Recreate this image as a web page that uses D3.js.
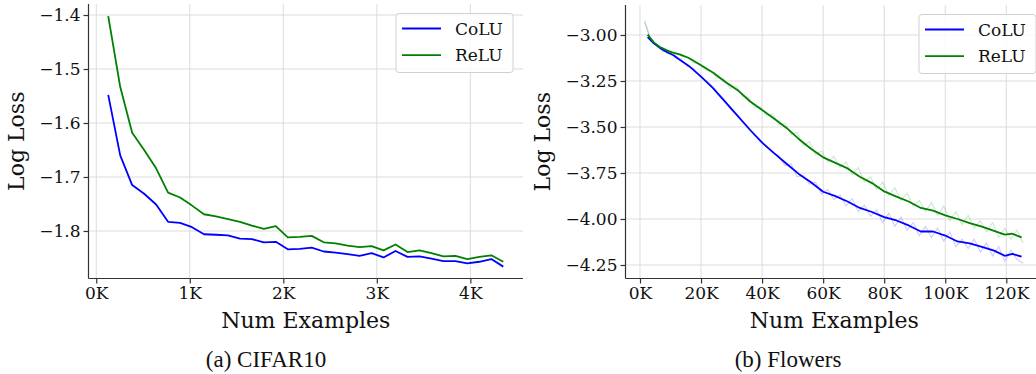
<!DOCTYPE html>
<html>
<head>
<meta charset="utf-8">
<script src="https://cdn.jsdelivr.net/npm/d3@7"></script>
<style>
body { margin: 0; background: #fff; }
</style>
</head>
<body>
<svg id="chart" width="1036" height="374"></svg>
<script>
const seriesNames = ['CoLU', 'ReLU'];
const seriesColors = ['#0000ff', '#008000'];

// (a) CIFAR10: one point per 128 examples
const cifarX = [128, 256, 384, 512, 640, 768, 896, 1024, 1152, 1280, 1408, 1536, 1664, 1792, 1920, 2048, 2176,
    2304, 2432, 2560, 2688, 2816, 2944, 3072, 3200, 3328, 3456, 3584, 3712, 3840, 3968, 4096, 4224, 4352];
const cifarColu = [-1.548, -1.660, -1.715, -1.731, -1.751, -1.783, -1.785, -1.793, -1.806, -1.807, -1.808, -1.814,
    -1.815, -1.821, -1.820, -1.834, -1.833, -1.831, -1.838, -1.840, -1.843, -1.846, -1.841, -1.849, -1.837, -1.848,
    -1.847, -1.851, -1.856, -1.856, -1.860, -1.857, -1.852, -1.866];
const cifarRelu = [-1.402, -1.533, -1.618, -1.650, -1.684, -1.729, -1.738, -1.753, -1.769, -1.773, -1.778, -1.783,
    -1.790, -1.796, -1.791, -1.812, -1.811, -1.809, -1.821, -1.823, -1.827, -1.830, -1.828, -1.836, -1.825, -1.839,
    -1.836, -1.841, -1.847, -1.846, -1.852, -1.848, -1.845, -1.857];

// (b) Flowers: smoothed curves
const flowersX = [2500, 4500, 6500, 9000, 11000, 13000, 16000, 20000, 24000, 28000, 32000, 36000, 40000, 44000,
    48000, 52000, 56000, 60000, 64000, 68000, 72000, 76000, 80000, 84000, 88000, 92000, 96000, 100000, 104000,
    108000, 112000, 116000, 119500, 122000, 125000];
const flowersColu = [-3.012, -3.045, -3.070, -3.095, -3.110, -3.135, -3.168, -3.226, -3.290, -3.365, -3.440, -3.515,
    -3.585, -3.643, -3.700, -3.755, -3.800, -3.852, -3.876, -3.905, -3.940, -3.962, -3.990, -4.008, -4.035, -4.068,
    -4.068, -4.090, -4.122, -4.132, -4.152, -4.172, -4.200, -4.190, -4.205];
const flowersRelu = [-2.998, -3.040, -3.065, -3.085, -3.097, -3.105, -3.125, -3.165, -3.205, -3.255, -3.300, -3.360,
    -3.408, -3.455, -3.505, -3.565, -3.618, -3.665, -3.695, -3.725, -3.770, -3.805, -3.850, -3.878, -3.905, -3.940,
    -3.955, -3.980, -4.000, -4.022, -4.042, -4.065, -4.085, -4.080, -4.100];

// (b) Flowers: raw (unsmoothed) values, drawn faint
const flowersRawX = [1500, 3500, 5500, 7500, 9500, 11500, 13500, 15500, 17500, 19500, 21500, 23500, 25500, 27500,
    29500, 31500, 33500, 35500, 37500, 39500, 41500, 43500, 45500, 47500, 49500, 51500, 53500, 55500, 57500, 59500,
    61500, 63500, 65500, 67500, 69500, 71500, 73500, 75500, 77500, 79500, 81500, 83500, 85500, 87500, 89500, 91500,
    93500, 95500, 97500, 99500, 101500, 103500, 105500, 107500, 109500, 111500, 113500, 115500, 117500, 119500,
    121500, 123500, 125500];
const flowersColuRaw = [-2.93, -3.03, -3.05, -3.09, -3.085, -3.125, -3.13, -3.17, -3.18, -3.225, -3.245, -3.275,
    -3.32, -3.35, -3.40, -3.43, -3.47, -3.50, -3.545, -3.57, -3.61, -3.64, -3.655, -3.71, -3.70, -3.77, -3.765,
    -3.81, -3.80, -3.865, -3.84, -3.895, -3.87, -3.93, -3.89, -3.96, -3.925, -3.985, -3.95, -4.02, -3.97, -4.04,
    -3.99, -4.06, -4.02, -4.09, -4.04, -4.10, -4.05, -4.12, -4.07, -4.15, -4.11, -4.16, -4.11, -4.18, -4.13, -4.20,
    -4.15, -4.23, -4.17, -4.22, -4.24];
const flowersReluRaw = [-2.92, -3.02, -3.055, -3.07, -3.10, -3.09, -3.115, -3.12, -3.15, -3.16, -3.19, -3.20,
    -3.235, -3.24, -3.29, -3.28, -3.33, -3.34, -3.395, -3.39, -3.44, -3.43, -3.49, -3.48, -3.54, -3.53, -3.60,
    -3.58, -3.65, -3.63, -3.69, -3.66, -3.72, -3.69, -3.76, -3.72, -3.80, -3.77, -3.84, -3.80, -3.87, -3.83, -3.90,
    -3.86, -3.93, -3.90, -3.96, -3.91, -3.98, -3.93, -4.01, -3.96, -4.03, -3.98, -4.05, -4.01, -4.07, -4.02, -4.10,
    -4.05, -4.11, -4.06, -4.13];

const cifarXTicks = [0, 1000, 2000, 3000, 4000];
const cifarYTicks = [-1.8, -1.7, -1.6, -1.5, -1.4];
const flowersXTicks = [0, 20000, 40000, 60000, 80000, 100000, 120000];
const flowersYTicks = [-4.25, -4.0, -3.75, -3.5, -3.25, -3.0];

const svg = d3.select('#chart');
const serif = "'DejaVu Serif', serif";
const kFormat = d => `${ d / 1000 }K`;

function drawPanel(p) {
    const x = d3.scaleLinear().domain(p.xDomain).range([p.left, p.right]);
    const y = d3.scaleLinear().domain(p.yDomain).range([p.bottom, p.top]);
    const g = svg.append('g');

    // grid
    g.append('g').selectAll('line').data(p.xTicks).join('line')
        .attr('x1', d => x(d)).attr('x2', d => x(d))
        .attr('y1', p.top).attr('y2', p.bottom)
        .attr('stroke', '#dcdcdc').attr('stroke-width', 1);
    g.append('g').selectAll('line').data(p.yTicks).join('line')
        .attr('x1', p.left).attr('x2', p.right)
        .attr('y1', d => y(d)).attr('y2', d => y(d))
        .attr('stroke', '#dcdcdc').attr('stroke-width', 1);

    const line = d3.line().x(d => x(d[0])).y(d => y(d[1]));

    // faint raw series underneath
    if (p.raw) {
        p.raw.forEach((vals, i) => {
            g.append('path')
                .datum(p.rawX.map((xv, j) => [xv, vals[j]]))
                .attr('fill', 'none')
                .attr('stroke', seriesColors[i])
                .attr('stroke-opacity', 0.2)
                .attr('stroke-width', 1.1)
                .attr('d', line);
        });
    }
    p.series.forEach((vals, i) => {
        g.append('path')
            .datum(p.xs.map((xv, j) => [xv, vals[j]]))
            .attr('fill', 'none')
            .attr('stroke', seriesColors[i])
            .attr('stroke-width', 1.8)
            .attr('stroke-linejoin', 'round')
            .attr('d', line);
    });

    // axes (left + bottom spines only)
    const xAxis = g.append('g')
        .attr('transform', `translate(0,${ p.bottom })`)
        .call(d3.axisBottom(x).tickValues(p.xTicks).tickFormat(kFormat).tickSize(5).tickPadding(3).tickSizeOuter(0));
    const yAxis = g.append('g')
        .attr('transform', `translate(${ p.left },0)`)
        .call(d3.axisLeft(y).tickValues(p.yTicks).tickFormat(d3.format(p.yFormat)).tickSize(5).tickPadding(3).tickSizeOuter(0));
    xAxis.select('.domain').attr('d', `M${ p.left },0H${ p.right }`);
    yAxis.select('.domain').attr('d', `M0,${ p.top }V${ p.bottom }`);
    for (const ax of [xAxis, yAxis]) {
        ax.selectAll('.domain, .tick line').attr('stroke', '#333').attr('stroke-width', 1.2);
        ax.selectAll('text').attr('font-family', serif).attr('font-size', 17).attr('fill', '#111');
    }

    // axis titles
    g.append('text')
        .attr('x', (p.left + p.right) / 2)
        .attr('y', 328)
        .attr('text-anchor', 'middle')
        .attr('font-family', serif)
        .attr('font-size', 22)
        .attr('fill', '#111')
        .text('Num Examples');
    g.append('text')
        .attr('transform', `translate(${ p.yLabelX },${ (p.top + p.bottom) / 2 }) rotate(-90)`)
        .attr('text-anchor', 'middle')
        .attr('font-family', serif)
        .attr('font-size', 22)
        .attr('fill', '#111')
        .text('Log Loss');

    // legend
    const lg = g.append('g').attr('transform', `translate(${ p.legend[0] },${ p.legend[1] })`);
    lg.append('rect')
        .attr('width', 117).attr('height', 59).attr('rx', 3)
        .attr('fill', '#fff').attr('fill-opacity', 0.8)
        .attr('stroke', '#d0d0d0').attr('stroke-width', 1);
    seriesNames.forEach((name, i) => {
        const ly = 15 + i * 26.7;
        lg.append('line')
            .attr('x1', 6).attr('x2', 45).attr('y1', ly).attr('y2', ly)
            .attr('stroke', seriesColors[i]).attr('stroke-width', 1.8);
        lg.append('text')
            .attr('x', 59).attr('y', ly + 6)
            .attr('font-family', serif)
            .attr('font-size', 17)
            .attr('fill', '#111')
            .text(name);
    });

    // caption (LaTeX-style Times font)
    svg.append('text')
        .attr('x', p.captionX)
        .attr('y', 367)
        .attr('text-anchor', 'middle')
        .attr('font-family', "'Liberation Serif', 'Times New Roman', serif")
        .attr('font-size', 23)
        .attr('fill', '#111')
        .text(p.caption);
}

drawPanel({
    left: 88.5, right: 523, top: 4, bottom: 278.5,
    xDomain: [-83, 4563], yDomain: [-1.888, -1.3796],
    xTicks: cifarXTicks, yTicks: cifarYTicks, yFormat: '.1f',
    xs: cifarX, series: [cifarColu, cifarRelu],
    yLabelX: 24, legend: [396, 13.5],
    caption: '(a) CIFAR10', captionX: 266
});

drawPanel({
    left: 625.5, right: 1043, top: 5, bottom: 278.5,
    xDomain: [-4750, 132020], yDomain: [-4.3234, -2.837],
    xTicks: flowersXTicks, yTicks: flowersYTicks, yFormat: '.2f',
    xs: flowersX, series: [flowersColu, flowersRelu],
    rawX: flowersRawX, raw: [flowersColuRaw, flowersReluRaw],
    yLabelX: 550, legend: [919, 14.5],
    caption: '(b) Flowers', captionX: 788
});
</script>
</body>
</html>
